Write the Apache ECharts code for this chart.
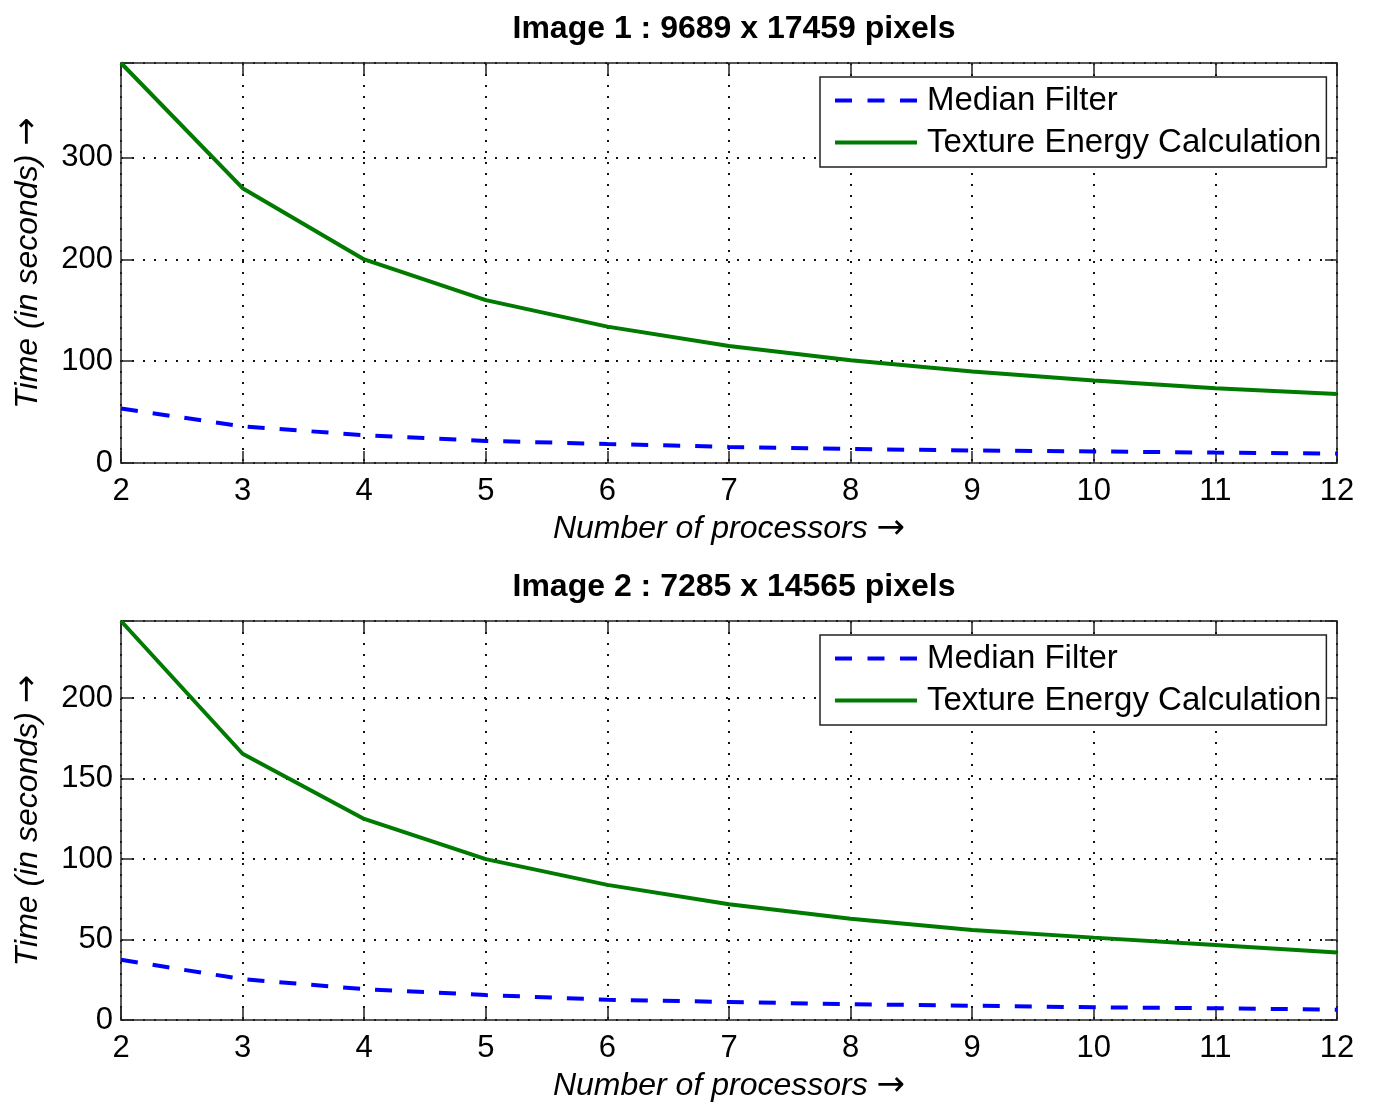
<!DOCTYPE html>
<html>
<head>
<meta charset="utf-8">
<script src="https://cdn.jsdelivr.net/npm/echarts@6/dist/echarts.min.js"></script>
<style>
html,body{margin:0;padding:0;background:#fff;}
#chart{width:1374px;height:1104px;}
</style>
</head>
<body>
<div id="chart"></div>
<script>
var processors = [2, 3, 4, 5, 6, 7, 8, 9, 10, 11, 12];
var titles = ['Image 1 : 9689 x 17459 pixels', 'Image 2 : 7285 x 14565 pixels'];
var seriesNames = ['Median Filter', 'Texture Energy Calculation'];
var median1 = [53.5, 36, 27.3, 21.7, 18.7, 15.8, 13.8, 12.3, 11.4, 10.2, 9.2];
var texture1 = [393, 270, 200, 160, 134, 115, 101, 90, 81, 73.5, 67.8];
var median2 = [37.4, 25.4, 19.2, 15.5, 12.6, 11.2, 9.8, 8.9, 7.9, 7.3, 6.4];
var texture2 = [248, 165.5, 125, 100, 84, 72, 62.9, 56, 51.2, 46.6, 42];
var yMax = [393, 248];
var yInterval = [100, 50];
var xName = 'Number of processors {a|\u2192}';
var yName = 'Time (in seconds) {a|\u2192}';

var FONT = '"Liberation Sans", Arial, sans-serif';
var AXIS_COLOR = '#222';
var BLUE = '#0000ff', GREEN = '#007a00';
var grids = [
  {left: 121, right: 37, top: 63, height: 400},
  {left: 121, right: 37, top: 621, height: 400}
];
function pairs(xs, ys) { return xs.map(function (x, i) { return [x, ys[i]]; }); }
var medians = [median1, median2];
var textures = [texture1, texture2];
var nameRich = {a: {fontFamily: '"DejaVu Sans", sans-serif', fontSize: 34, fontStyle: 'normal', color: '#000'}};

var xAxes = [], yAxes = [], series = [], titleOpts = [];
grids.forEach(function (g, i) {
  var tickStyle = {show: true, inside: true, length: 12, lineStyle: {color: AXIS_COLOR, width: 1.5}};
  var lineStyle = {show: true, onZero: false, lineStyle: {color: AXIS_COLOR, width: 1.5}};
  var dotted = {show: true, lineStyle: {color: '#111', width: 2, type: [2, 9]}};
  xAxes.push({
    type: 'value', gridIndex: i, min: 2, max: 12, interval: 1, position: 'bottom',
    axisLine: lineStyle, axisTick: tickStyle, splitLine: dotted,
    axisLabel: {color: '#000', fontSize: 31, fontFamily: FONT, margin: 13},
    name: xName, nameLocation: 'middle', nameGap: 49,
    nameTextStyle: {color: '#000', fontSize: 32, fontStyle: 'italic', fontFamily: FONT, rich: nameRich}
  });
  xAxes.push({
    type: 'value', gridIndex: i, min: 2, max: 12, interval: 1, position: 'top',
    axisLine: lineStyle, axisTick: tickStyle, splitLine: {show: false}, axisLabel: {show: false}
  });
  yAxes.push({
    type: 'value', gridIndex: i, min: 0, max: yMax[i], interval: yInterval[i], position: 'left',
    axisLine: lineStyle, axisTick: tickStyle, splitLine: dotted,
    axisLabel: {color: '#000', fontSize: 31, fontFamily: FONT, margin: 8,
      formatter: function (v) { return (v % yInterval[i] === 0) ? String(v) : ''; }},
    name: yName, nameLocation: 'middle', nameGap: 76, nameRotate: 90,
    nameTextStyle: {color: '#000', fontSize: 32, fontStyle: 'italic', fontFamily: FONT, rich: nameRich}
  });
  yAxes.push({
    type: 'value', gridIndex: i, min: 0, max: yMax[i], interval: yInterval[i], position: 'right',
    axisLine: lineStyle, axisTick: tickStyle, splitLine: {show: false}, axisLabel: {show: false}
  });
  series.push({
    type: 'line', name: seriesNames[0], xAxisIndex: 2 * i, yAxisIndex: 2 * i,
    data: pairs(processors, medians[i]), showSymbol: false, symbol: 'none',
    lineStyle: {color: BLUE, width: 4, type: [17, 15]}, itemStyle: {color: BLUE},
    animation: false, z: 3
  });
  series.push({
    type: 'line', name: seriesNames[1], xAxisIndex: 2 * i, yAxisIndex: 2 * i,
    data: pairs(processors, textures[i]), showSymbol: false, symbol: 'none',
    lineStyle: {color: GREEN, width: 4, type: 'solid'}, itemStyle: {color: GREEN},
    animation: false, z: 4
  });
  titleOpts.push({
    text: titles[i], left: 729, textAlign: 'center', top: g.top - 55,
    textStyle: {color: '#000', fontSize: 32, fontWeight: 'bold', fontFamily: FONT}
  });
});

var dashIcon = 'path://M0,0h17v4h-17z M32.5,0h17v4h-17z M65,0h17v4h-17z';
var solidIcon = 'path://M0,0h82v4h-82z';

var option = {
  backgroundColor: '#fff',
  animation: false,
  title: titleOpts,
  grid: grids,
  xAxis: xAxes,
  yAxis: yAxes,
  legend: [0, 1].map(function (i) {
    return {
      orient: 'vertical', left: 820, top: grids[i].top + 14,
      data: [
        {name: seriesNames[0], icon: dashIcon, itemStyle: {color: BLUE}},
        {name: seriesNames[1], icon: solidIcon, itemStyle: {color: GREEN}}
      ],
      backgroundColor: '#fff', borderColor: AXIS_COLOR, borderWidth: 1.5,
      padding: [7, 5, 8, 15], itemWidth: 82, itemHeight: 4, itemGap: 9,
      selectedMode: false,
      textStyle: {color: '#000', fontSize: 33, fontFamily: FONT, lineHeight: 32, padding: [0, 0, 0, 5]}
    };
  }),
  series: series
};
var chart = echarts.init(document.getElementById('chart'), null, {renderer: 'canvas'});
chart.setOption(option);
</script>
</body>
</html>
